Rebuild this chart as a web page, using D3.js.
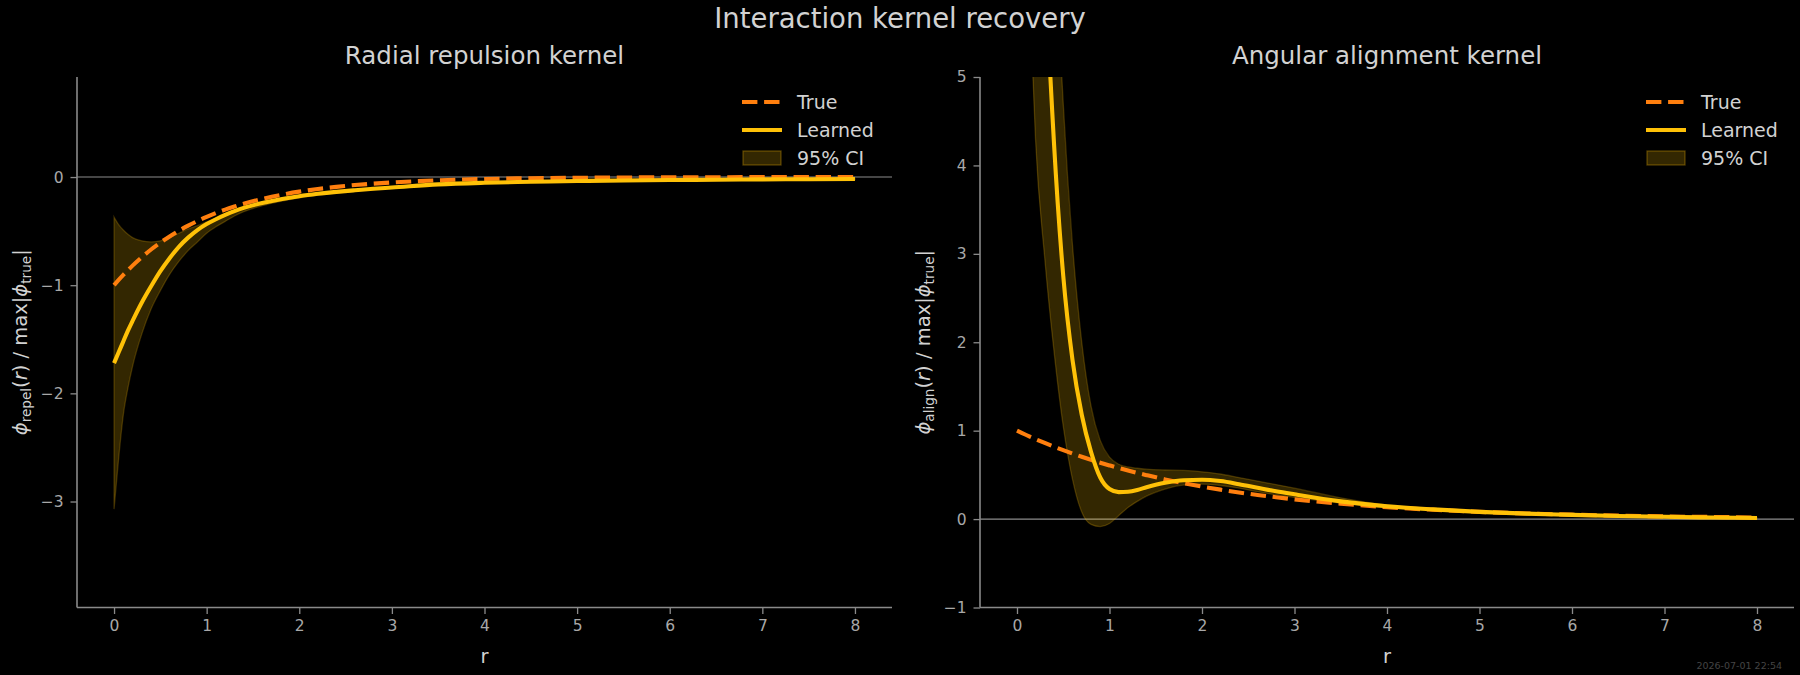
<!DOCTYPE html>
<html>
<head>
<meta charset="utf-8">
<script src="https://cdn.jsdelivr.net/npm/d3@7"></script>
<style>
  html, body { margin: 0; padding: 0; background: #000; }
  svg { display: block; }
  text { font-family: "DejaVu Sans", sans-serif; }
</style>
</head>
<body>
<script>
// ---------------- data ----------------
const rGrid = [0, 0.05, 0.1, 0.15, 0.2, 0.3, 0.4, 0.5, 0.6, 0.7, 0.8, 0.9, 1.0, 1.1, 1.2, 1.3, 1.4, 1.6, 1.8, 2.0, 2.2, 2.4, 2.6, 2.8, 3.0, 3.5, 4.0, 4.5, 5.0, 5.5, 6.0, 6.5, 7.0, 7.5, 8.0];

const repelTrue = [-1.0, -0.951, -0.905, -0.861, -0.819, -0.741, -0.670, -0.607, -0.549, -0.497, -0.449, -0.407, -0.368, -0.333, -0.301, -0.273, -0.247, -0.202, -0.165, -0.135, -0.111, -0.091, -0.074, -0.061, -0.050, -0.030, -0.018, -0.011, -0.007, -0.004, -0.002, -0.0015, -0.001, -0.0006, -0.0003];
const repelLearned = [-1.72, -1.62, -1.52, -1.42, -1.33, -1.16, -1.01, -0.87, -0.75, -0.645, -0.56, -0.49, -0.435, -0.39, -0.35, -0.315, -0.285, -0.24, -0.205, -0.177, -0.155, -0.137, -0.122, -0.108, -0.097, -0.068, -0.053, -0.044, -0.037, -0.032, -0.028, -0.025, -0.022, -0.020, -0.018];
const repelUpper = [-0.37, -0.44, -0.49, -0.53, -0.56, -0.59, -0.60, -0.59, -0.56, -0.52, -0.48, -0.45, -0.415, -0.38, -0.345, -0.31, -0.28, -0.235, -0.20, -0.172, -0.15, -0.132, -0.117, -0.103, -0.092, -0.064, -0.049, -0.040, -0.033, -0.028, -0.024, -0.021, -0.018, -0.016, -0.014];
const repelLower = [-3.07, -2.6, -2.2, -1.95, -1.75, -1.45, -1.22, -1.05, -0.9, -0.78, -0.68, -0.6, -0.52, -0.46, -0.41, -0.36, -0.32, -0.265, -0.225, -0.193, -0.168, -0.148, -0.131, -0.116, -0.104, -0.075, -0.058, -0.048, -0.041, -0.036, -0.032, -0.029, -0.026, -0.024, -0.022];

const alignTrue = [1.0, 0.975, 0.951, 0.928, 0.905, 0.861, 0.819, 0.779, 0.741, 0.705, 0.670, 0.638, 0.607, 0.577, 0.549, 0.522, 0.497, 0.449, 0.407, 0.368, 0.333, 0.301, 0.273, 0.247, 0.223, 0.174, 0.135, 0.105, 0.082, 0.064, 0.050, 0.039, 0.030, 0.024, 0.018];
const alignLearned = [23, 19, 15, 12, 9.8, 6.4, 4.25, 2.75, 1.8, 1.18, 0.76, 0.47, 0.34, 0.305, 0.31, 0.33, 0.36, 0.41, 0.44, 0.445, 0.43, 0.395, 0.355, 0.315, 0.28, 0.20, 0.145, 0.11, 0.082, 0.062, 0.048, 0.035, 0.026, 0.018, 0.012];
const alignUpper = [40, 33, 26, 21, 17, 11, 7, 4.7, 3.1, 2.0, 1.28, 0.89, 0.70, 0.62, 0.59, 0.575, 0.565, 0.555, 0.55, 0.535, 0.51, 0.47, 0.43, 0.39, 0.35, 0.24, 0.16, 0.12, 0.09, 0.068, 0.053, 0.04, 0.03, 0.021, 0.015];
const alignLower = [14, 10, 7.5, 5.6, 4.3, 2.95, 1.9, 1.05, 0.45, 0.08, -0.06, -0.085, -0.05, 0.04, 0.13, 0.20, 0.26, 0.34, 0.385, 0.395, 0.38, 0.35, 0.31, 0.275, 0.245, 0.18, 0.13, 0.10, 0.075, 0.056, 0.043, 0.031, 0.022, 0.015, 0.009];

const xTicks = [0, 1, 2, 3, 4, 5, 6, 7, 8];
const repelYTicks = [-3, -2, -1, 0];
const alignYTicks = [-1, 0, 1, 2, 3, 4, 5];
const legendLabels = ["True", "Learned", "95% CI"];
const panelTitles = ["Radial repulsion kernel", "Angular alignment kernel"];
const ySubscripts = ["repel", "align"];
const figTitle = "Interaction kernel recovery";
const stamp = "2026-07-01 22:54";

// ---------------- styles ----------------
const W = 1800, H = 675;
const C_TRUE = "#ff7f0e", C_LEARN = "#ffc107";
const C_TEXT = "#d2d2d2", C_TICK = "#a8a8a8", C_SPINE = "#8a8a8a";
const plotTop = 77, plotBottom = 607.5;

const svg = d3.select("body").append("svg").attr("width", W).attr("height", H)
  .style("background", "#000");
svg.append("rect").attr("width", W).attr("height", H).attr("fill", "#000");

svg.append("text").attr("x", 900).attr("y", 28).attr("text-anchor", "middle")
  .attr("font-size", 27.5).attr("fill", C_TEXT).text(figTitle);

svg.append("text").attr("x", 1782).attr("y", 669).attr("text-anchor", "end")
  .attr("font-size", 9.5).attr("fill", "#444").text(stamp);

const panels = [
  { x0: 77, x1: 892, yDom: [-3.98, 0.925], yTicks: repelYTicks,
    tr: repelTrue, le: repelLearned, up: repelUpper, lo: repelLower, legX: 742 },
  { x0: 980, x1: 1794, yDom: [-1, 5], yTicks: alignYTicks,
    tr: alignTrue, le: alignLearned, up: alignUpper, lo: alignLower, legX: 1646 }
];

panels.forEach((p, i) => {
  const x = d3.scaleLinear().domain([-0.4, 8.4]).range([p.x0, p.x1]);
  const y = d3.scaleLinear().domain(p.yDom).range([plotBottom, plotTop]);
  const g = svg.append("g");

  const clipId = "clip" + i;
  svg.append("clipPath").attr("id", clipId).append("rect")
    .attr("x", p.x0).attr("y", plotTop).attr("width", p.x1 - p.x0).attr("height", plotBottom - plotTop);

  // zero line
  g.append("line").attr("x1", p.x0).attr("x2", p.x1).attr("y1", y(0)).attr("y2", y(0))
    .attr("stroke", "#8c8c8c").attr("stroke-width", 1.1);

  const plot = g.append("g").attr("clip-path", `url(#${clipId})`);
  const idx = d3.range(rGrid.length);

  const area = d3.area().x(j => x(rGrid[j])).y0(j => y(p.lo[j])).y1(j => y(p.up[j]))
    .curve(d3.curveMonotoneX);
  plot.append("path").datum(idx).attr("d", area)
    .attr("fill", C_LEARN).attr("fill-opacity", 0.2)
    .attr("stroke", C_LEARN).attr("stroke-opacity", 0.22).attr("stroke-width", 1.3);

  const lineT = d3.line().x(j => x(rGrid[j])).y(j => y(p.tr[j])).curve(d3.curveMonotoneX);
  plot.append("path").datum(idx).attr("d", lineT).attr("fill", "none")
    .attr("stroke", C_TRUE).attr("stroke-width", 4.1).attr("stroke-dasharray", "15.4,6.7");

  const lineL = d3.line().x(j => x(rGrid[j])).y(j => y(p.le[j])).curve(d3.curveMonotoneX);
  plot.append("path").datum(idx).attr("d", lineL).attr("fill", "none")
    .attr("stroke", C_LEARN).attr("stroke-width", 4.1);

  // axes
  const xa = g.append("g").attr("transform", `translate(0,${plotBottom})`)
    .call(d3.axisBottom(x).tickValues(xTicks).tickSize(6.5).tickPadding(6).tickFormat(d3.format("d")));
  const ya = g.append("g").attr("transform", `translate(${p.x0},0)`)
    .call(d3.axisLeft(y).tickValues(p.yTicks).tickSize(6.5).tickPadding(7)
      .tickFormat(d => (d < 0 ? "\u2212" + Math.abs(d) : String(d))));
  [xa, ya].forEach(a => {
    a.select(".domain").attr("stroke", C_SPINE).attr("stroke-width", 1.6);
    a.selectAll(".tick line").attr("stroke", C_SPINE).attr("stroke-width", 1.3);
    a.selectAll(".tick text").attr("fill", C_TICK).attr("font-size", 15.5)
      .attr("font-family", "DejaVu Sans");
  });
  xa.select(".domain").attr("d", `M${p.x0},0H${p.x1}`);
  ya.select(".domain").attr("d", `M0,${plotBottom}V${plotTop}`);

  // panel title
  g.append("text").attr("x", (p.x0 + p.x1) / 2).attr("y", 64).attr("text-anchor", "middle")
    .attr("font-size", 24.5).attr("fill", C_TEXT).text(panelTitles[i]);

  // x label
  g.append("text").attr("x", (p.x0 + p.x1) / 2).attr("y", 663).attr("text-anchor", "middle")
    .attr("font-size", 19.5).attr("fill", C_TEXT).text("r");

  // y label (math-like)
  const yl = g.append("text").attr("transform", `translate(${p.x0 - 50},${(plotTop + plotBottom) / 2}) rotate(-90)`)
    .attr("text-anchor", "middle").attr("font-size", 19.5).attr("fill", C_TEXT);
  yl.append("tspan").attr("font-style", "italic").text("\u03D5");
  yl.append("tspan").attr("font-size", 13.6).attr("dy", 4).text(ySubscripts[i]);
  yl.append("tspan").attr("dy", -4).text("(");
  yl.append("tspan").attr("font-style", "italic").text("r");
  yl.append("tspan").text(") / max|");
  yl.append("tspan").attr("font-style", "italic").text("\u03D5");
  yl.append("tspan").attr("font-size", 13.6).attr("dy", 4).text("true");
  yl.append("tspan").attr("dy", -4).text("|");

  // legend
  const lg = g.append("g");
  const rowY = [102, 130, 158];
  lg.append("line").attr("x1", p.legX).attr("x2", p.legX + 38).attr("y1", rowY[0]).attr("y2", rowY[0])
    .attr("stroke", C_TRUE).attr("stroke-width", 4.1).attr("stroke-dasharray", "15.4,6.7");
  lg.append("line").attr("x1", p.legX).attr("x2", p.legX + 40).attr("y1", rowY[1]).attr("y2", rowY[1])
    .attr("stroke", C_LEARN).attr("stroke-width", 4.1);
  lg.append("rect").attr("x", p.legX + 1).attr("y", rowY[2] - 7).attr("width", 38).attr("height", 14)
    .attr("fill", C_LEARN).attr("fill-opacity", 0.2)
    .attr("stroke", C_LEARN).attr("stroke-opacity", 0.3).attr("stroke-width", 1.3);
  legendLabels.forEach((t, k) => {
    lg.append("text").attr("x", p.legX + 55).attr("y", rowY[k] + 7).attr("font-size", 19)
      .attr("fill", C_TEXT).text(t);
  });
});
</script>
</body>
</html>
